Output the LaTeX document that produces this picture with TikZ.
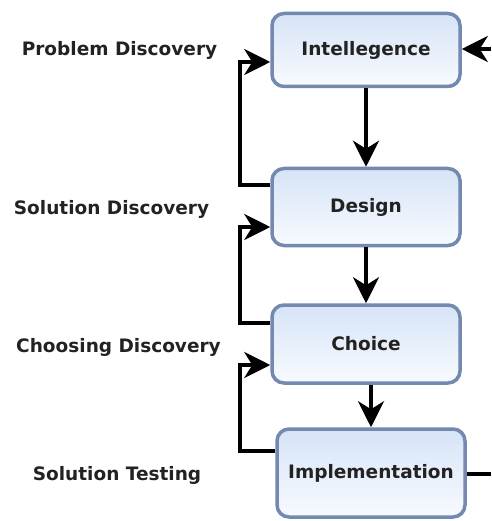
\documentclass[tikz,border=0pt]{standalone}
\usepackage{fontspec}
\setmainfont{DejaVu Sans}
\usetikzlibrary{arrows.meta,calc}
\definecolor{boxborder}{HTML}{7389B0}
\definecolor{boxtop}{HTML}{D6E4F7}
\definecolor{boxbot}{HTML}{F8FAFE}
\definecolor{txt}{HTML}{222222}
\begin{document}
\begin{tikzpicture}[x=1pt,y=-1pt,
  stagebox/.style={draw=boxborder, line width=3.5pt, rounded corners=12pt,
    top color=boxtop, bottom color=boxbot, minimum width=188pt,
    font=\fontsize{18.5}{20}\selectfont\bfseries, text=txt, inner sep=0pt},
  sidelabel/.style={font=\fontsize{18.5}{20}\selectfont\bfseries, text=txt, inner sep=0pt},
  flow/.style={line width=4pt, -{Stealth[length=26pt,width=26pt,inset=8pt]}},
  plain/.style={line width=4pt}]
\useasboundingbox (0,0) rectangle (491,521);
\node[stagebox, minimum height=73pt] (I) at (366,50) {Intellegence};
\node[stagebox, minimum height=77pt] (D) at (366,207) {Design};
\node[stagebox, minimum height=78pt] (C) at (366,344) {Choice};
\node[stagebox, minimum height=88pt] (M) at (371,473) {Implementation};

\node[sidelabel] (l1) at (119.5,50) {Problem Discovery};
\node[sidelabel] (l2) at (111.5,209) {Solution Discovery};
\node[sidelabel] (l3) at (118.5,347) {Choosing Discovery};
\node[sidelabel] (l4) at (117,475) {Solution Testing};

\coordinate (rin) at (491,49);
\coordinate (rout) at (491,474);

\draw[flow] (I.south) -- (D.north);
\draw[flow] (D.south) -- (C.north);
\draw[flow] (M.north |- C.south) -- (M.north);

\draw[flow] ($(D.west)+(0,-22)$) -| (240,62) -- ($(I.west)+(0,12)$);
\draw[flow] ($(C.west)+(0,-21)$) -| (240,227) -- ($(D.west)+(0,20)$);
\draw[flow] ($(M.west)+(0,-22)$) -| (240,365) -- ($(C.west)+(0,21)$);

\draw[flow] (rin) -- (I.east |- rin);
\draw[plain] (M.east |- rout) -- (rout);
\end{tikzpicture}
\end{document}
